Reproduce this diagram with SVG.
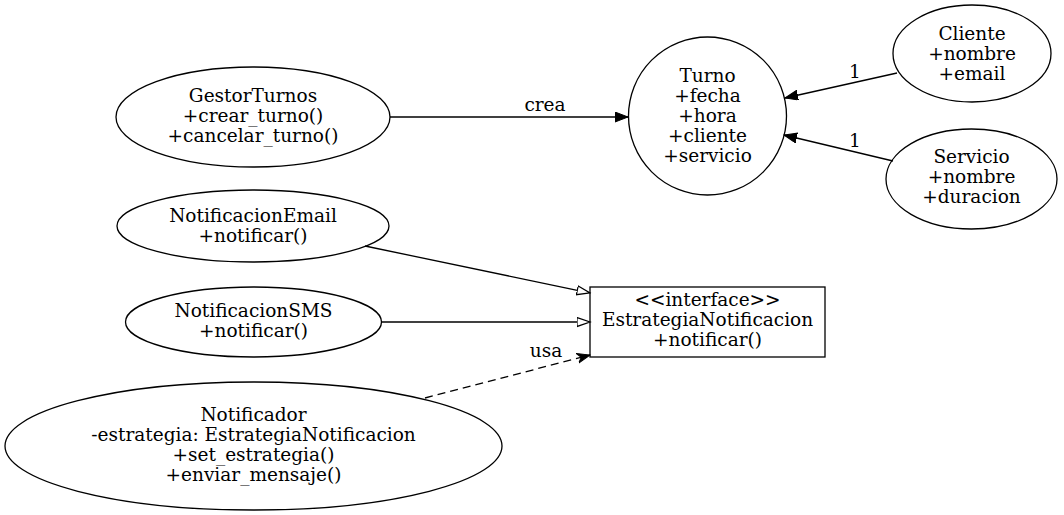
<svg xmlns="http://www.w3.org/2000/svg" width="1064" height="515" viewBox="0 0 1064 515">
<style>
text{font-family:"DejaVu Serif","Liberation Serif",serif;font-size:18.5px;fill:#000;text-anchor:middle}
.shape{fill:none;stroke:#000;stroke-width:1.3}
.edge{fill:none;stroke:#000;stroke-width:1.3}
.dash{stroke-dasharray:8,5}
</style>
<defs>
<marker id="fill" markerUnits="userSpaceOnUse" markerWidth="14" markerHeight="11" refX="13" refY="5" orient="auto"><path d="M0,0 L13,5 L0,10 Z" fill="#000" stroke="#000" stroke-width="1"/></marker>
<marker id="hollow" markerUnits="userSpaceOnUse" markerWidth="15" markerHeight="12" refX="0.5" refY="5.5" orient="auto"><path d="M0.5,1 L13.5,5.5 L0.5,10 Z" fill="#fff" stroke="#000" stroke-width="1.2"/></marker>
<marker id="vee" markerUnits="userSpaceOnUse" markerWidth="14" markerHeight="11" refX="13" refY="5" orient="auto"><path d="M0,0 L13,5 L0,10 L4,5 Z" fill="#000" stroke="#000" stroke-width="1"/></marker>
</defs>
<rect width="1064" height="515" fill="#fff"/>
<g id="connectors">
<line class="edge" x1="390" y1="117" x2="628" y2="117" marker-end="url(#fill)"/>
<text x="545" y="111">crea</text>
<line class="edge" x1="897" y1="73" x2="785" y2="98" marker-end="url(#fill)"/>
<text x="855" y="78">1</text>
<line class="edge" x1="893" y1="161" x2="784" y2="135" marker-end="url(#fill)"/>
<text x="855" y="147">1</text>
<line class="edge" x1="365" y1="246" x2="577.3" y2="290.3" marker-end="url(#hollow)"/>
<line class="edge" x1="381" y1="322" x2="577" y2="322" marker-end="url(#hollow)"/>
<line class="edge dash" x1="425" y1="398" x2="590" y2="355" marker-end="url(#vee)"/>
<text x="546" y="357">usa</text>
</g>
<g id="GestorTurnos">
<ellipse class="shape" cx="253" cy="117" rx="137" ry="50"/>
<text x="253" y="102">GestorTurnos</text>
<text x="253" y="122">+crear_turno()</text>
<text x="253" y="142">+cancelar_turno()</text>
</g>
<g id="Turno">
<circle class="shape" cx="707.5" cy="116" r="79"/>
<text x="707.5" y="82">Turno</text>
<text x="707.5" y="102">+fecha</text>
<text x="707.5" y="122">+hora</text>
<text x="707.5" y="142">+cliente</text>
<text x="707.5" y="162">+servicio</text>
</g>
<g id="Cliente">
<ellipse class="shape" cx="972" cy="53.5" rx="79" ry="48.5"/>
<text x="972" y="40">Cliente</text>
<text x="972" y="60">+nombre</text>
<text x="972" y="80">+email</text>
</g>
<g id="Servicio">
<ellipse class="shape" cx="971.5" cy="179" rx="85.5" ry="50"/>
<text x="971.5" y="163">Servicio</text>
<text x="971.5" y="183">+nombre</text>
<text x="971.5" y="203">+duracion</text>
</g>
<g id="NotificacionEmail">
<ellipse class="shape" cx="253" cy="226" rx="136" ry="36"/>
<text x="253" y="222">NotificacionEmail</text>
<text x="253" y="242">+notificar()</text>
</g>
<g id="NotificacionSMS">
<ellipse class="shape" cx="253.5" cy="322" rx="128" ry="35"/>
<text x="253.5" y="317">NotificacionSMS</text>
<text x="253.5" y="337">+notificar()</text>
</g>
<g id="Notificador">
<ellipse class="shape" cx="253.5" cy="446" rx="248.5" ry="64"/>
<text x="253.5" y="421">Notificador</text>
<text x="253.5" y="441">-estrategia: EstrategiaNotificacion</text>
<text x="253.5" y="461">+set_estrategia()</text>
<text x="253.5" y="481">+enviar_mensaje()</text>
</g>
<g id="EstrategiaNotificacion">
<rect class="shape" x="590" y="287" width="235" height="70"/>
<text x="707.5" y="306">&lt;&lt;interface&gt;&gt;</text>
<text x="707.5" y="326">EstrategiaNotificacion</text>
<text x="707.5" y="346">+notificar()</text>
</g>
</svg>
